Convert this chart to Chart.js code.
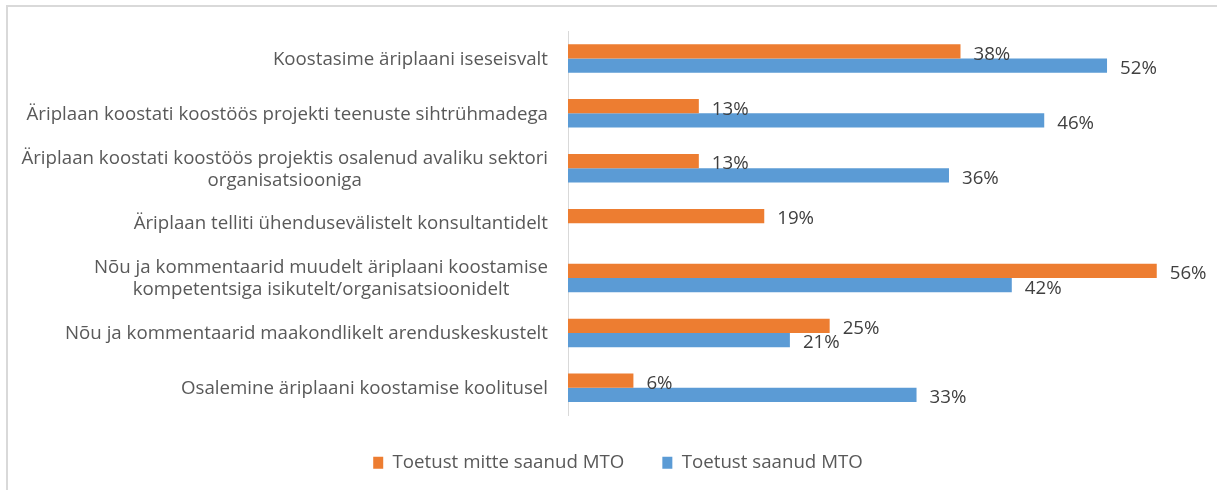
<!DOCTYPE html>
<html>
<head>
<meta charset="utf-8">
<script src="https://cdn.jsdelivr.net/npm/chart.js@4/dist/chart.umd.min.js"></script>
<style>
  html, body { margin: 0; padding: 0; background: #fff; }
  #frame {
    position: absolute; left: 6px; top: 5px; width: 1211px; height: 485px;
    box-sizing: border-box;
    border-top: 2px solid #d9d9d9; border-left: 2px solid #d9d9d9;
  }
  #box { position: relative; width: 100%; height: 100%; }
</style>
</head>
<body>
<div id="frame"><div id="box"><canvas id="myChart"></canvas></div></div>
<script>
const categories = [
  ["Koostasime äriplaani iseseisvalt"],
  ["Äriplaan koostati koostöös projekti teenuste sihtrühmadega"],
  ["Äriplaan koostati koostöös projektis osalenud avaliku sektori", "organisatsiooniga"],
  ["Äriplaan telliti ühendusevälistelt konsultantidelt"],
  ["Nõu ja kommentaarid muudelt äriplaani koostamise", "kompetentsiga isikutelt/organisatsioonidelt"],
  ["Nõu ja kommentaarid maakondlikelt arenduskeskustelt"],
  ["Osalemine äriplaani koostamise koolitusel"],
];
const seriesNames = ["Toetust mitte saanud MTO", "Toetust saanud MTO"];
const notSupported = [37.5, 12.5, 12.5, 18.75, 56.25, 25, 6.25];
const supported = [51.5, 45.5, 36.4, null, 42.4, 21.2, 33.3];

const font = "'Open Sans', 'Liberation Sans', sans-serif";
const fontSize = 18.7;

// labels at the end of each bar
const barLabels = {
  id: "barLabels",
  afterDatasetsDraw(chart) {
    const ctx = chart.ctx;
    ctx.save();
    ctx.font = fontSize + "px " + font;
    ctx.fillStyle = "#404040";
    ctx.textAlign = "left";
    ctx.textBaseline = "middle";
    chart.data.datasets.forEach((ds, i) => {
      chart.getDatasetMeta(i).data.forEach((bar, j) => {
        const v = ds.data[j];
        if (v == null) return;
        ctx.fillText(Math.round(v) + "%", bar.x + 13, bar.y + 3);
      });
    });
    ctx.restore();
  },
};

// category labels: block right-aligned, lines centered inside the block
const catLabels = {
  id: "catLabels",
  afterDraw(chart) {
    const ctx = chart.ctx;
    const y = chart.scales.y;
    const right = chart.chartArea.left - 20;
    const lineH = 22;
    ctx.save();
    ctx.font = fontSize + "px " + font;
    ctx.fillStyle = "#595959";
    ctx.textAlign = "center";
    ctx.textBaseline = "middle";
    chart.data.labels.forEach((lines, i) => {
      const w = Math.max(...lines.map((l) => ctx.measureText(l).width));
      const cx = right - w / 2;
      const cy = y.getPixelForTick(i);
      lines.forEach((l, k) => {
        ctx.fillText(l, cx, cy + 1 + (k - (lines.length - 1) / 2) * lineH);
      });
    });
    ctx.restore();
  },
};

const ctx = document.getElementById("myChart").getContext("2d");
const myChart = new Chart(ctx, {
  type: "bar",
  data: {
    labels: categories,
    datasets: [
      {
        label: seriesNames[0],
        data: notSupported,
        backgroundColor: "#ed7d31",
      },
      {
        label: seriesNames[1],
        data: supported,
        backgroundColor: "#5b9bd5",
      },
    ],
  },
  options: {
    indexAxis: "y",
    responsive: true,
    maintainAspectRatio: false,
    animation: false,
    barPercentage: 1,
    categoryPercentage: 0.52,
    layout: {
      padding: { left: 32, top: 24, right: 21, bottom: 8 },
    },
    scales: {
      x: {
        display: false,
        min: 0,
        max: 60,
      },
      y: {
        grid: { display: false },
        border: { display: true, color: "#d9d9d9", width: 1 },
        ticks: { display: false },
        afterFit(scale) {
          scale.width = 528;
        },
      },
    },
    plugins: {
      tooltip: { enabled: false },
      legend: {
        display: true,
        position: "bottom",
        labels: {
          boxWidth: 10,
          boxHeight: 12,
          padding: 38,
          color: "#595959",
          font: { family: font, size: fontSize },
        },
      },
    },
  },
  plugins: [barLabels, catLabels],
});
</script>
</body>
</html>
